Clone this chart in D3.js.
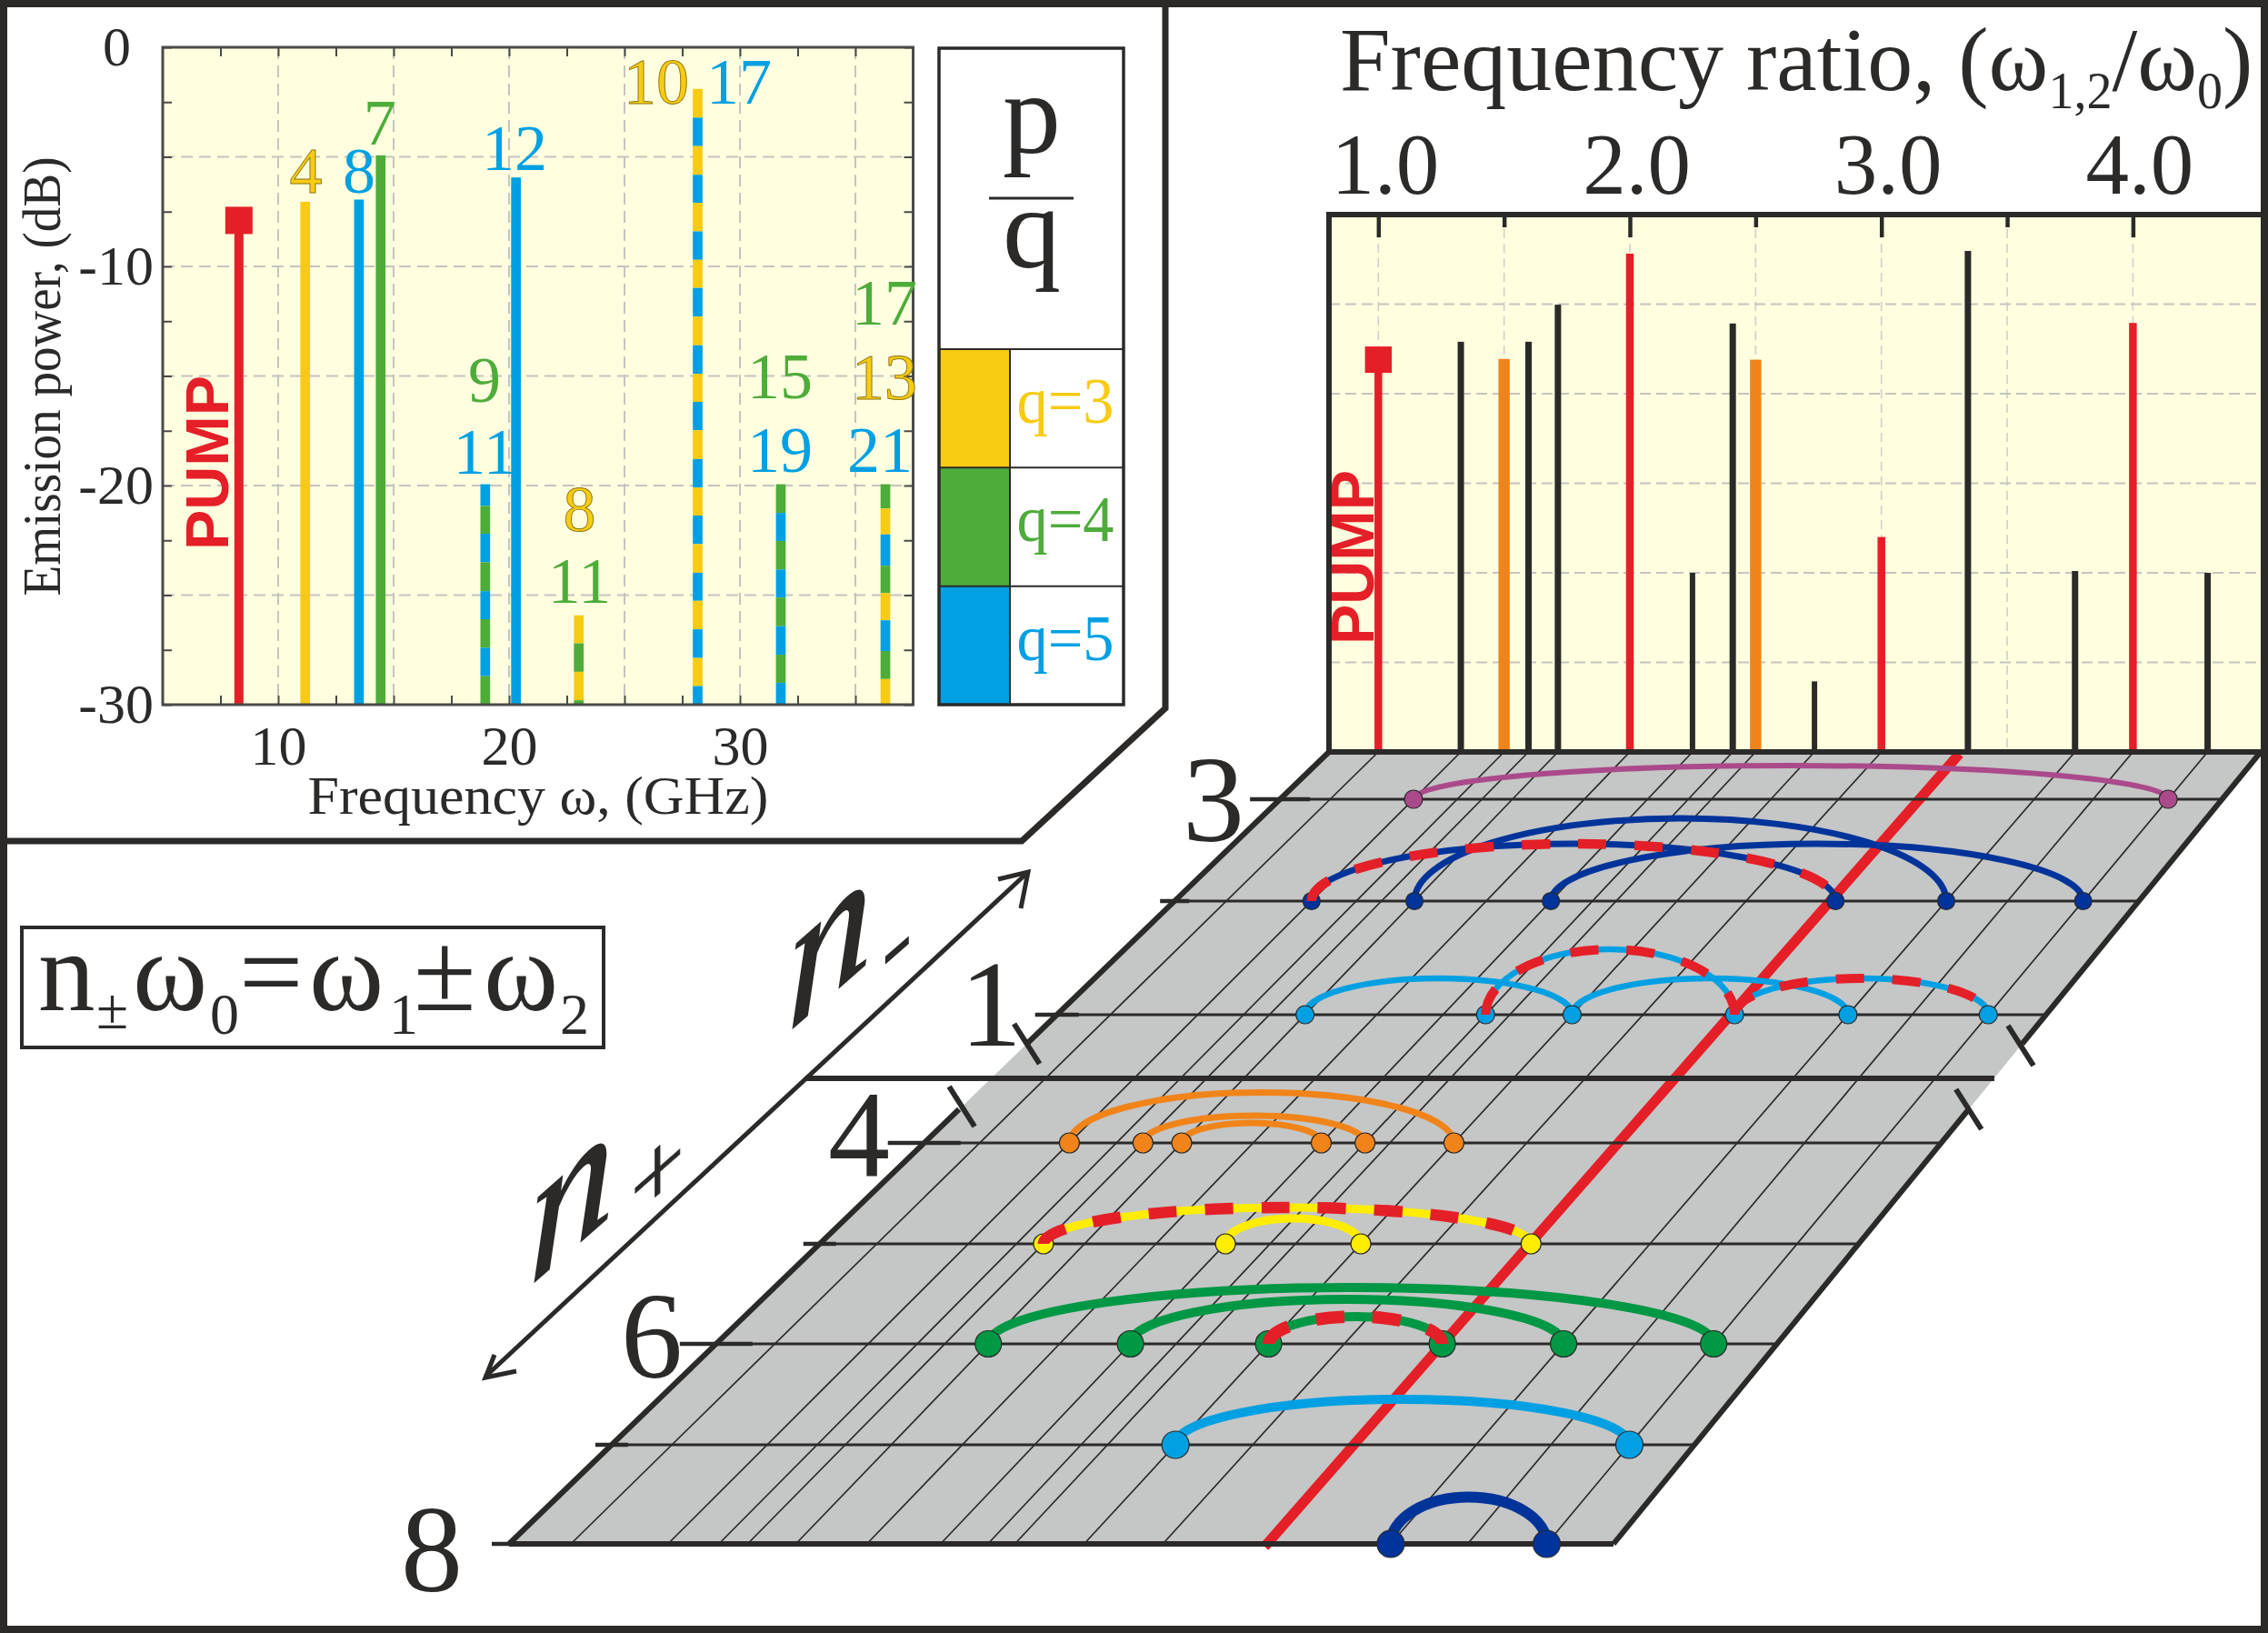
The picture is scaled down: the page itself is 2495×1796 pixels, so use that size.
<!DOCTYPE html>
<html><head><meta charset="utf-8">
<script src="https://cdn.jsdelivr.net/npm/d3@7/dist/d3.min.js"></script>
<style>html,body{margin:0;padding:0;background:#fff}svg{display:block}text{font-family:"Liberation Serif",serif;fill:#2b2a29}</style>
</head><body><div id="c"></div>
<script>
const INK="#2b2a29",RED="#e51f27",PAPER="#ffffdf",PLANE="#c5c6c6";
const qColor={3:"#f8cb13",4:"#4eac3a",5:"#00a0e3"};
const qValues=[3,4,5];
// left spectrum
const pumpFreq=8.3, pumpLevel=-7.9;
const solidFreq=[11.17,13.5,14.44,20.3];
const solidTop=[-7.05,-6.95,-4.93,-5.94];
const solidQ=[3,5,4,5];
const stripeFreq=[18.97,23.02,28.17,31.77,36.3];
const stripeStops=[
 [-19.94,-20.93,-22.2,-23.5,-24.82,-26.1,-27.4,-28.7,-30],
 [-25.92,-27.2,-28.5,-29.8,-30],
 [-1.9,-3.21,-4.51,-5.82,-7.1,-8.4,-9.7,-10.98,-12.29,-13.6,-14.9,-16.18,-17.48,-18.79,-20.09,-21.37,-22.67,-23.98,-25.26,-26.56,-27.87,-29.15,-30],
 [-19.94,-21.25,-22.53,-23.83,-25.11,-26.42,-27.72,-29,-30],
 [-19.94,-21.05,-22.23,-23.66,-24.91,-26.15,-27.55,-28.83,-30]];
const stripeQ=[[5,4,5,4,5,4,5,4],[3,4,3,4],
 [3,5,3,5,3,5,3,5,3,5,3,5,3,5,3,5,3,5,3,5,3,5],
 [4,5,4,5,4,5,4,5],[4,3,5,4,3,5,4,3]];
const peakText=["4","8","7","12","9","11","8","11","10","17","15","19","17","13","21"];
const peakFreq=[11.2,13.5,14.4,20.24,18.94,18.94,23.05,23.05,26.38,29.96,31.73,31.73,36.26,36.26,36.06];
const peakLevel=[-6.64,-6.64,-4.44,-5.6,-16.18,-19.46,-22.07,-25.35,-2.57,-2.57,-16.02,-19.38,-12.66,-16.06,-19.38];
const peakQ=[3,5,4,5,4,5,3,4,3,5,4,5,4,3,5];
// right spectrum
const ratio=[1,1.328,1.5,1.597,1.714,2,2.249,2.409,2.5,2.734,3,3.344,3.77,4,4.297];
const ratioAtFront=[1,1.328,1.5,1.597,1.76,2,2.249,2.409,2.5,2.734,3,3.344,3.77,4.03,4.297];
const ratioTop=[-8.1,-7.1,-8.06,-7.1,-5.03,-2.18,-20,-6.08,-8.1,-26.06,-18,-2.03,-19.9,-6.05,-20];
const ratioKind=["pump","k","o","k","k","r","t","k","o","t","r","k","k","r","k"];
const kindColor={pump:RED,k:INK,t:INK,o:"#f18419",r:RED};
const kindWidth={pump:8.5,k:7,t:6,o:12.4,r:8.5};
const ratioTicks=[1,1.5,2,2.5,3,3.5,4];
// combination plane
const rowN=[3,2,1,4,5,6,7,8];
const rowTick=[33,16,24,40,18,40,18,19];
const rowLabels=[3,1,4,6,8];
const arcRow=[3,2,2,2,1,1,1,1,4,4,4,5,5,6,6,6,7,8];
const arcFrom=[1.328,1.328,1.714,2.249,1.714,2.734,2.409,3.344,1.328,1.597,1.714,1.597,2.249,1.714,2.249,2.734,2.734,3.77];
const arcTo=[4.297,3.344,3.77,4.297,2.734,3.77,3.344,4.297,2.734,2.409,2.249,3.344,2.734,4.297,3.77,3.344,4.297,4.297];
const arcLift=[37,63,91,63,40,40,72,40,55.5,30,22,40,28,62,49,30,50,51.5];
const arcDashed=[0,1,0,0,0,0,1,1,0,0,0,1,0,0,0,1,0,0];
const rowColor={3:"#ab4a8b",2:"#00349a",1:"#00a0e3",4:"#f18419",5:"#ffed00",6:"#009844",7:"#00a0e3",8:"#00349a"};
const rowWidth={3:6,2:7,1:6.5,4:7,5:9,6:10,7:10,8:12};
const rowDot={3:10,2:9.5,1:10,4:11,5:11,6:14.5,7:15,8:15};

const svg=d3.select("#c").append("svg").attr("width",2495).attr("height",1796).attr("viewBox","0 0 2495 1796");
const txt=(g,s,x,y,fs,o={})=>{const t=g.append("text").attr("x",x).attr("y",y).attr("font-size",fs).text(s);
  Object.entries(o).forEach(([k,v])=>t.attr(k,v));return t;};

// ---------- frames
svg.append("rect").attr("x",4).attr("y",4).attr("width",2487).attr("height",1788).attr("fill","#fff").attr("stroke",INK).attr("stroke-width",8);
svg.append("path").attr("fill","none").attr("stroke",INK).attr("stroke-width",7)
  .attr("d",d3.line()([[1282,4],[1282,779],[1124,925],[4,925]]));

// ---------- left spectrum
{
 const x=d3.scaleLinear([5,37.5],[179,1004.5]), y=d3.scaleLinear([0,-30],[52,775]);
 const g=svg.append("g");
 g.append("rect").attr("x",179).attr("y",52).attr("width",825.5).attr("height",723).attr("fill",PAPER);
 const dash={stroke:"#c4c4c0","stroke-width":2,"stroke-dasharray":"13 7"};
 const grid=g.append("g");
 d3.range(10,36,5).forEach(v=>{const l=grid.append("line").attr("x1",x(v)).attr("x2",x(v)).attr("y1",52).attr("y2",775);Object.entries(dash).forEach(([k,a])=>l.attr(k,a));});
 d3.range(-25,0,5).forEach(v=>{const l=grid.append("line").attr("x1",179).attr("x2",1004.5).attr("y1",y(v)).attr("y2",y(v));Object.entries(dash).forEach(([k,a])=>l.attr(k,a));});
 // bars
 const bw=10.7;
 g.append("rect").attr("x",x(pumpFreq)-5).attr("width",10).attr("y",y(pumpLevel)).attr("height",775-y(pumpLevel)).attr("fill",RED);
 g.append("rect").attr("x",x(pumpFreq)-15).attr("width",30).attr("y",y(pumpLevel)-15).attr("height",30).attr("fill",RED);
 g.selectAll(".solid").data(solidFreq).join("rect").attr("x",d=>x(d)-bw/2).attr("width",bw)
  .attr("y",(d,i)=>y(solidTop[i])).attr("height",(d,i)=>775-y(solidTop[i])).attr("fill",(d,i)=>qColor[solidQ[i]]);
 stripeFreq.forEach((f,b)=>{
  stripeQ[b].forEach((q,i)=>{
   g.append("rect").attr("x",x(f)-bw/2).attr("width",bw).attr("y",y(stripeStops[b][i])).attr("height",y(stripeStops[b][i+1])-y(stripeStops[b][i])).attr("fill",qColor[q]);
  });
 });
 // axes
 const tickStyle=s=>{s.select(".domain").remove();s.selectAll("line").attr("stroke","#4a4a48").attr("stroke-width",2);};
 const ax=g.append("g").attr("transform","translate(0,775)").call(d3.axisBottom(x).tickValues(d3.range(7.5,37.5,2.5)).tickSize(-10).tickFormat(d=>[10,20,30].includes(d)?String(d):"")).call(tickStyle);
 ax.selectAll("text").attr("font-size",62).attr("y",66).attr("dy",0).attr("font-family","Liberation Serif").style("fill",INK);
 g.append("g").attr("transform","translate(0,52)").call(d3.axisTop(x).tickValues(d3.range(7.5,37.5,2.5)).tickSize(-10).tickFormat("")).call(tickStyle);
 const ay=g.append("g").attr("transform","translate(179,0)").call(d3.axisLeft(y).tickValues(d3.range(0,-31,-2.5)).tickSize(-10).tickFormat(d=>d%10===0?String(d):"")).call(tickStyle);
 ay.selectAll("text").attr("font-size",62).attr("dy","0.32em").attr("x",d=>d===0?-35:-10).attr("font-family","Liberation Serif").style("fill",INK);
 g.append("g").attr("transform","translate(1004.5,0)").call(d3.axisRight(y).tickValues(d3.range(0,-31,-2.5)).tickSize(-10).tickFormat("")).call(tickStyle);
 g.append("rect").attr("x",179).attr("y",52).attr("width",825.5).attr("height",723).attr("fill","none").attr("stroke","#4a4a48").attr("stroke-width",3);
 // peak labels
 peakText.forEach((s,i)=>{
  const t=txt(g,s,x(peakFreq[i]),y(peakLevel[i]),72,{"text-anchor":"middle"}).style("fill",qColor[peakQ[i]]);
  if(peakQ[i]===3) t.attr("stroke","#8a7412").attr("stroke-width",0.9);
 });
 txt(g,"PUMP",0,0,66,{"text-anchor":"middle","font-weight":"bold",transform:"translate(251,509) rotate(-90)",textLength:192,lengthAdjust:"spacingAndGlyphs"}).style("fill",RED).style("font-family","Liberation Sans");
 txt(g,"Frequency ω, (GHz)",592,895,60,{"text-anchor":"middle",textLength:507,lengthAdjust:"spacingAndGlyphs"});
 txt(g,"Emission power, (dB)",0,0,60,{"text-anchor":"middle",transform:"translate(66,414) rotate(-90)",textLength:483,lengthAdjust:"spacingAndGlyphs"});
 // p/q key
 const k=svg.append("g");
 const band=d3.scaleBand().domain(qValues).range([384,775]);
 k.append("rect").attr("x",1033).attr("y",53).attr("width",203).attr("height",722).attr("fill","#fff");
 qValues.forEach(q=>{
  k.append("rect").attr("x",1033).attr("width",78).attr("y",band(q)).attr("height",band.bandwidth()).attr("fill",qColor[q]);
  k.append("line").attr("x1",1033).attr("x2",1236).attr("y1",band(q)).attr("y2",band(q)).attr("stroke",INK).attr("stroke-width",2);
  txt(k,"q="+q,1172,band(q)+81,72,{"text-anchor":"middle",textLength:107,lengthAdjust:"spacingAndGlyphs"}).style("fill",qColor[q]);
 });
 k.append("line").attr("x1",1111).attr("x2",1111).attr("y1",384).attr("y2",775).attr("stroke",INK).attr("stroke-width",2);
 k.append("rect").attr("x",1033).attr("y",53).attr("width",203).attr("height",722).attr("fill","none").attr("stroke",INK).attr("stroke-width",3.5);
 txt(k,"p",1135,168,128,{"text-anchor":"middle"});
 k.append("line").attr("x1",1088).attr("x2",1181).attr("y1",218).attr("y2",218).attr("stroke",INK).attr("stroke-width",3);
 txt(k,"q",1135,294,128,{"text-anchor":"middle"});
}

// ---------- right spectrum + plane
const xR=d3.scaleLinear([1,4],[1516.3,2346.4]);
const xB=d3.scaleLinear([1,4.297],[628,1701.5]);
const frontOf=d3.scaleOrdinal(ratio,ratioAtFront);
const PT=827,PB=1698;
const tOf=d3.scaleLinear([PT,PB],[0,1]);
const project=(r,yy)=>xR(r)+(xB(frontOf(r))-xR(r))*tOf(yy);
const leftEdge=d3.scaleLinear([PT,PB],[1462,560]);
const rightEdge=d3.scaleLinear([PT,PB],[2487,1775]);
const rowY=d3.scaleOrdinal(rowN,[879,991,1116,1257,1368,1478,1589,1698]);
{
 const y=d3.scaleLinear([0,-30],[236,827]);
 const g=svg.append("g");
 g.append("rect").attr("x",1462).attr("y",236).attr("width",1025).attr("height",591).attr("fill",PAPER);
 ratioTicks.forEach(v=>g.append("line").attr("x1",xR(v)).attr("x2",xR(v)).attr("y1",236).attr("y2",827).attr("stroke","#cfcfca").attr("stroke-width",1.6).attr("stroke-dasharray","10 6"));
 d3.range(-25,0,5).forEach(v=>g.append("line").attr("x1",1462).attr("x2",2487).attr("y1",y(v)).attr("y2",y(v)).attr("stroke","#c4c4c0").attr("stroke-width",2).attr("stroke-dasharray","12 6"));
 g.selectAll(".b").data(ratio).join("rect").attr("x",(d,i)=>xR(d)-kindWidth[ratioKind[i]]/2).attr("width",(d,i)=>kindWidth[ratioKind[i]])
  .attr("y",(d,i)=>y(ratioTop[i])).attr("height",(d,i)=>827-y(ratioTop[i])).attr("fill",(d,i)=>kindColor[ratioKind[i]]);
 g.append("rect").attr("x",xR(1)-14.7).attr("y",y(ratioTop[0])-14.5).attr("width",29.4).attr("height",29).attr("fill",RED);
 txt(g,"PUMP",0,0,66,{"text-anchor":"middle","font-weight":"bold",transform:"translate(1511,613) rotate(-90)",textLength:192,lengthAdjust:"spacingAndGlyphs"}).style("fill",RED).style("font-family","Liberation Sans");
 const ax=g.append("g").attr("transform","translate(0,236)").call(d3.axisTop(xR).tickValues(ratioTicks).tickSize(-14).tickFormat(d=>Number.isInteger(d)?d.toFixed(1):""));
 ax.select(".domain").remove();
 ax.selectAll("line").attr("stroke",INK).attr("stroke-width",4.5).attr("y2",d=>Number.isInteger(d)?25:14);
 ax.selectAll("text").attr("font-size",95).attr("y",-23).attr("dy",0).attr("x",7).attr("font-family","Liberation Serif").style("fill",INK);
 const t=txt(g,"",1474,99,100);
 t.append("tspan").text("Frequency ratio, (ω");
 t.append("tspan").text("1,2").attr("font-size",56).attr("dy",20);
 t.append("tspan").text("/ω").attr("dy",-20);
 t.append("tspan").text("0").attr("font-size",56).attr("dy",20);
 t.append("tspan").text(")").attr("dy",-20);
 g.append("path").attr("fill","none").attr("stroke",INK).attr("stroke-width",6).attr("d",d3.line()([[1462,827],[1462,236],[2487,236]]));

 // plane
 const p=svg.append("g");
 p.append("path").attr("fill",PLANE).attr("d",d3.line()([[leftEdge(PT),PT],[rightEdge(PT),PT],[rightEdge(PB),PB],[leftEdge(PB),PB]])+"Z");
 ratio.forEach(r=>{ if(r===3.344) return;
  p.append("line").attr("x1",project(r,PT)).attr("y1",PT).attr("x2",project(r,PB)).attr("y2",PB).attr("stroke",INK).attr("stroke-width",1.7);
 });
 // pump-multiple diagonal
 p.append("line").attr("x1",xR(3.31)).attr("y1",PT+2).attr("x2",xB(3.344)).attr("y2",PB+3).attr("stroke",RED).attr("stroke-width",11);
 // rows
 rowN.forEach((n,i)=>{
  const yy=rowY(n), e=leftEdge(yy);
  p.append("line").attr("x1",e-rowTick[i]).attr("x2",e+rowTick[i]).attr("y1",yy).attr("y2",yy).attr("stroke",INK).attr("stroke-width",4.5);
  p.append("line").attr("x1",e).attr("x2",rightEdge(yy)).attr("y1",yy).attr("y2",yy).attr("stroke",INK).attr("stroke-width",n===8?6:3);
 });
 // edges
 const edge=[[[1462,PT],[2487,PT]],[[leftEdge(PB),PB],[rightEdge(PB),PB]],
  [[1462,PT],[leftEdge(1148),1148]],[[leftEdge(1220),1220],[leftEdge(PB),PB]],
  [[2487,PT],[rightEdge(1148),1148]],[[rightEdge(1220),1220],[rightEdge(PB),PB]]];
 edge.forEach(e=>p.append("path").attr("d",d3.line()(e)).attr("stroke",INK).attr("stroke-width",6).attr("fill","none"));
 // cut marks and divider
 [[leftEdge(1148),1148],[leftEdge(1217),1217],[rightEdge(1150),1150],[rightEdge(1220),1220]].forEach(c=>{
  p.append("line").attr("x1",c[0]-14).attr("y1",c[1]-22).attr("x2",c[0]+14).attr("y2",c[1]+22).attr("stroke",INK).attr("stroke-width",6);
 });
 p.append("line").attr("x1",886).attr("x2",2194).attr("y1",1186).attr("y2",1186).attr("stroke",INK).attr("stroke-width",6);
 // arcs
 const arcPath=i=>{const yy=rowY(arcRow[i]),a=project(arcFrom[i],yy),b=project(arcTo[i],yy);
   return `M${a},${yy}A${(b-a)/2},${arcLift[i]} 0 0 1 ${b},${yy}`;};
 arcRow.forEach((n,i)=>p.append("path").attr("d",arcPath(i)).attr("fill","none").attr("stroke",rowColor[n]).attr("stroke-width",rowWidth[n]));
 rowN.forEach(n=>{
  const yy=rowY(n), seen=new Set();
  arcRow.forEach((m,i)=>{ if(m!==n) return; seen.add(arcFrom[i]); seen.add(arcTo[i]); });
  seen.forEach(r=>p.append("circle").attr("cx",project(r,yy)).attr("cy",yy).attr("r",rowDot[n]).attr("fill",rowColor[n]).attr("stroke",INK).attr("stroke-width",1.2));
 });
 arcRow.forEach((n,i)=>{ if(arcDashed[i]) p.append("path").attr("d",arcPath(i)).attr("fill","none").attr("stroke",RED).attr("stroke-width",rowWidth[n]+3.5).attr("stroke-dasharray","31 31"); });
 // row labels
 const lx={3:1335,1:1090,4:945,6:717,8:475}, ly={3:925,1:1150,4:1294,6:1515,8:1750};
 rowLabels.forEach(n=>txt(p,String(n),lx[n],ly[n],136,{"text-anchor":"middle"}));
}

// ---------- diagonal axis arrows
{
 const g=svg.append("g");
 g.append("line").attr("x1",1130).attr("y1",960).attr("x2",534).attr("y2",1514).attr("stroke",INK).attr("stroke-width",5);
 g.append("path").attr("fill","none").attr("stroke",INK).attr("stroke-width",5).attr("d",d3.line()([[1098,967],[1131,959],[1123,999]]));
 g.append("path").attr("fill","none").attr("stroke",INK).attr("stroke-width",5).attr("d",d3.line()([[544,1490],[534,1515],[568,1508]]));
 const slanted=(s,x,y,fs,sx,sy,slope,w)=>txt(g,s,0,0,fs,{"font-style":"italic",stroke:INK,"stroke-width":w,transform:`matrix(${sx},${sx*slope},0,${sy},${x},${y})`});
 slanted("n",866,1136,125,1.5,1.55,-0.875,1.4);
 slanted("-",971,1082,70,1.35,1.4,-0.875,1);
 slanted("n",582,1415,125,1.5,1.55,-0.875,1.4);
 slanted("+",687,1357,70,1.5,1.6,-0.875,0.6);
}

// ---------- formula box
{
 const g=svg.append("g");
 g.append("rect").attr("x",24).attr("y",1020).attr("width",640).attr("height",132).attr("fill","none").attr("stroke",INK).attr("stroke-width",4);
 const base=1111, subBase=1137;
 [["n",42],["ω",146],["=",263],["ω",340],["±",455],["ω",532]].forEach(d=>txt(g,d[0],d[1],base,125));
 [["±",106,1131],["0",231,subBase],["1",428,subBase],["2",616,subBase]].forEach(d=>txt(g,d[0],d[1],d[2],64));
}
</script></body></html>
